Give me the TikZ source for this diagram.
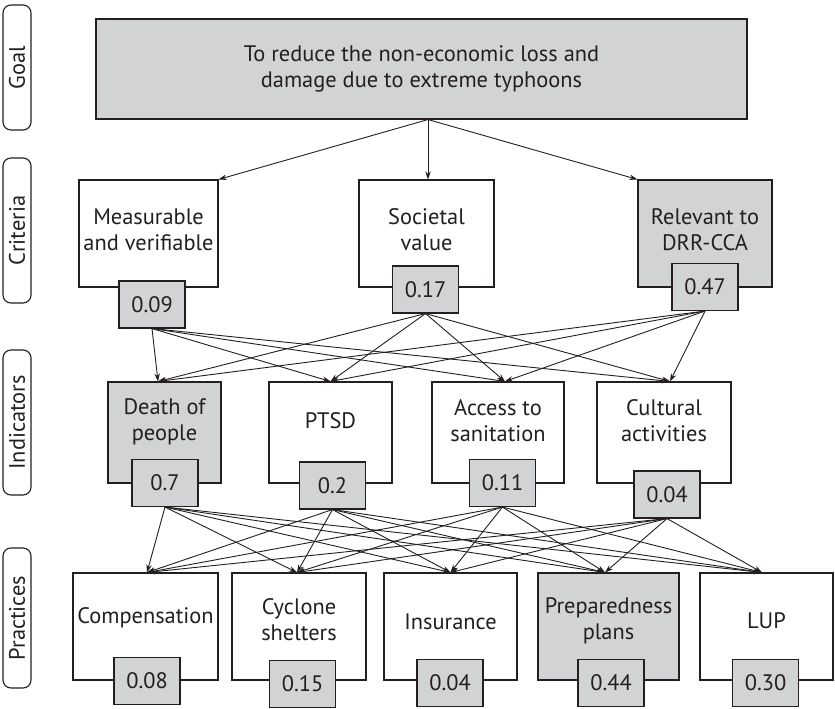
\documentclass[tikz,border=0pt]{standalone}
\usepackage{fontspec}
\setmainfont{PT Sans}
\usetikzlibrary{arrows.meta}
\definecolor{boxgray}{RGB}{209,211,212}
\definecolor{ink}{RGB}{35,31,32}
\begin{document}
\begin{tikzpicture}[x=1pt,y=-1pt,
  every node/.style={font=\fontsize{22.4}{26}\selectfont, text=ink},
  box/.style={draw=ink, line width=1.1pt, inner sep=0pt},
  wbox/.style={box, fill=white},
  gbox/.style={box, fill=boxgray},
  val/.style={box, fill=boxgray, minimum width=66pt, minimum height=47pt},
  txt/.style={align=center, inner sep=0pt},
  side/.style={draw=ink, line width=1.1pt, rounded corners=8pt, minimum height=28pt, inner sep=0pt, rotate=90},
  conn/.style={draw=ink, line width=0.9pt, -{Stealth[length=8pt,width=5.5pt]}},
]
\useasboundingbox (0,0) rectangle (835,709);

% side labels
\node[side, minimum width=125pt] (lgoal) at (17,67.5) {Goal};
\node[side, minimum width=145pt] (lcrit) at (17,230.5) {Criteria};
\node[side, minimum width=145pt] (lind) at (17,422.5) {Indicators};
\node[side, minimum width=140pt] (lprac) at (17,618) {Practices};

% goal
\node[gbox, minimum width=651pt, minimum height=100pt, align=center] (goal) at (421.5,69)
  {To reduce the non-economic loss and\\damage due to extreme typhoons};

% criteria
\node[wbox, minimum width=139pt, minimum height=107pt] (M) at (148.5,233.5) {};
\node[txt] (Mt) at (148.5,230) {Measurable\\and verifiable};
\node[val] (vM) at (152,304.5) {0.09};
\node[wbox, minimum width=135pt, minimum height=107pt] (S) at (426.5,233.5) {};
\node[txt] (St) at (426.5,230) {Societal\\value};
\node[val] (vS) at (425.5,289.5) {0.17};
\node[gbox, minimum width=134pt, minimum height=107pt] (R) at (705,233.5) {};
\node[txt] (Rt) at (705,230) {Relevant to\\DRR-CCA};
\node[val] (vR) at (705,287) {0.47};

% indicators
\node[gbox, minimum width=113pt, minimum height=101pt] (D) at (164.5,432.5) {};
\node[txt] (Dt) at (164.5,421.5) {Death of\\people};
\node[val] (vD) at (165,483) {0.7};
\node[wbox, minimum width=123pt, minimum height=101pt] (P) at (330.5,432.5) {};
\node[txt] (Pt) at (330.5,421) {PTSD};
\node[val] (vP) at (332.5,485.5) {0.2};
\node[wbox, minimum width=132pt, minimum height=101pt] (A) at (498,432.5) {};
\node[txt] (At) at (498,421) {Access to\\sanitation};
\node[val] (vA) at (502.5,483) {0.11};
\node[wbox, minimum width=134pt, minimum height=101pt] (C) at (664,432.5) {};
\node[txt] (Ct) at (664,421) {Cultural\\activities};
\node[val] (vC) at (667,494.5) {0.04};

% practices
\node[wbox, minimum width=145pt, minimum height=107pt] (Pc) at (145.5,626.5) {};
\node[txt] (Pct) at (145.5,618) {Compensation};
\node[val] (vPc) at (147,681) {0.08};
\node[wbox, minimum width=134pt, minimum height=107pt] (Py) at (299,626.5) {};
\node[txt] (Pyt) at (299,620) {Cyclone\\shelters};
\node[val] (vPy) at (302.5,684) {0.15};
\node[wbox, minimum width=133pt, minimum height=107pt] (Pi) at (450.5,626.5) {};
\node[txt] (Pit) at (450.5,622) {Insurance};
\node[val] (vPi) at (450,683) {0.04};
\node[gbox, minimum width=141pt, minimum height=107pt] (Pp) at (608.5,626.5) {};
\node[txt] (Ppt) at (608.5,621) {Preparedness\\plans};
\node[val] (vPp) at (611,683) {0.44};
\node[wbox, minimum width=133pt, minimum height=107pt] (Pl) at (766.5,626.5) {};
\node[txt] (Plt) at (766.5,621) {LUP};
\node[val] (vPl) at (765.5,683) {0.30};

% goal -> criteria
\draw[conn] ([xshift=6.5pt]goal.south) -- (M.north east);
\draw[conn] ([xshift=6.5pt]goal.south) -- ([xshift=1.5pt]S.north);
\draw[conn] ([xshift=6.5pt]goal.south) -- (R.north west);

% criteria -> indicators
\foreach \s in {vM,vS,vR}
  \foreach \t/\dx in {D/-6.5,P/0,A/7,C/6}
    \draw[conn] (\s.south) -- ([xshift=\dx pt]\t.north);

% indicators -> practices
\foreach \s in {vD,vP,vA,vC}
  \foreach \t/\dx in {Pc/1.5,Py/-2,Pi/0,Pp/-3.5,Pl/-4.5}
    \draw[conn] (\s.south) -- ([xshift=\dx pt]\t.north);
\end{tikzpicture}
\end{document}
